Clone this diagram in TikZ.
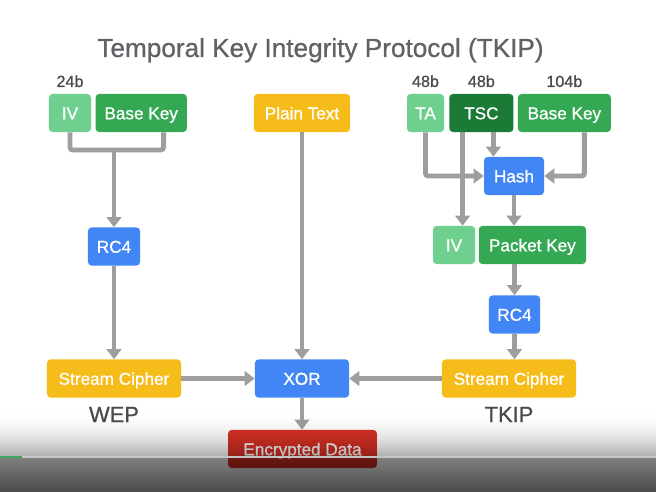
\documentclass[tikz,border=0pt]{standalone}
\usepackage{fontspec}
\setmainfont{Liberation Sans}
\newfontfamily\boxfont{Liberation Sans}[FakeBold=0.9]
\newfontfamily\headfont{Liberation Sans}[FakeBold=0.7]
\usepackage{tikz}
\usetikzlibrary{positioning,arrows.meta,calc}
\definecolor{tkline}{HTML}{9E9E9E}
\definecolor{tktext}{HTML}{606366}
\definecolor{tklabel}{HTML}{4A4A4A}
\definecolor{tklight}{HTML}{6FCF8E}
\definecolor{tkgreen}{HTML}{34A853}
\definecolor{tkdark}{HTML}{1B7A35}
\definecolor{tkblue}{HTML}{4285F4}
\definecolor{tkyellow}{HTML}{F6BC1A}
\definecolor{tkred}{HTML}{D93025}
\definecolor{tkbar}{HTML}{C4C4C4}
\definecolor{tkprog}{HTML}{3BA55C}

\begin{document}
\begin{tikzpicture}[
  x=0.025cm, y=-0.025cm,
  box/.style={fill=#1, rounded corners=2.5pt, text=white, minimum height=0.95cm,
              inner sep=0pt, text height=8.9pt, text depth=0pt,
              font=\boxfont\fontsize{12.2}{14}\selectfont},
  size/.style={text=tklabel, font=\headfont\fontsize{11.5}{13}\selectfont},
  head/.style={text=tktext, font=\headfont\fontsize{18.6}{22}\selectfont},
  tag/.style={text=tklabel, font=\headfont\fontsize{15.6}{18}\selectfont},
  link/.style={draw=tkline, line width=3.5pt, rounded corners=2pt},
  arr/.style={link, -{Triangle[width=0.36cm,length=0.25cm]}},
]
  \fill[white] (0,0) rectangle (656,492);
  \useasboundingbox (0,0) rectangle (656,492);

  % ---- title ----------------------------------------------------------------
  \node[head, anchor=base] (title) at (320.5,57) {Temporal Key Integrity Protocol (TKIP)};

  % ---- WEP side -------------------------------------------------------------
  \node[box=tklight, minimum width=1.05cm] (ivl) at (70,113) {IV};
  \node[box=tkgreen, minimum width=2.28cm, right=0.1cm of ivl] (bkl) {Base Key};
  \node[size, above=0.04cm of ivl] (ivlsz) {24b};
  \node[box=tkblue, minimum width=1.3cm] (rc4l) at (114,246.5) {RC4};
  \node[box=tkyellow, minimum width=3.35cm] (scl) at (114,378.5) {Stream Cipher};
  \node[tag, anchor=base] (wep) at (114,422) {WEP};
  \coordinate (wepjoin) at (114,150);

  % ---- middle ---------------------------------------------------------------
  \node[box=tkyellow, minimum width=2.4cm] (plain) at (302,113) {Plain Text};
  \node[box=tkblue, minimum width=2.35cm] (xor) at (302,378.5) {XOR};
  \node[box=tkred, minimum width=3.72cm] (enc) at (302.5,449) {Encrypted Data};

  % ---- TKIP side ------------------------------------------------------------
  \node[box=tklight, minimum width=0.925cm] (ta) at (425.5,113) {TA};
  \node[box=tkdark, minimum width=1.6cm, right=0.12cm of ta] (tsc) {TSC};
  \node[box=tkgreen, minimum width=2.32cm, right=0.1cm of tsc] (bkr) {Base Key};
  \node[size, above=0.04cm of ta] (tasz) {48b};
  \node[size, above=0.04cm of tsc] (tscsz) {48b};
  \node[size, above=0.04cm of bkr] (bkrsz) {104b};
  \node[box=tkblue, minimum width=1.5cm] (hash) at (514,176) {Hash};
  \node[box=tklight, minimum width=1.05cm] (ivr) at (454,245) {IV};
  \node[box=tkgreen, minimum width=2.68cm, right=0.08cm of ivr] (pk) {Packet Key};
  \node[box=tkblue, minimum width=1.28cm] (rc4r) at (514.5,314.5) {RC4};
  \node[box=tkyellow, minimum width=3.35cm] (scr) at (509,378.5) {Stream Cipher};
  \node[tag, anchor=base] (tkip) at (509,422) {TKIP};

  % ---- connectors -----------------------------------------------------------
  \draw[link] (ivl.south) |- (wepjoin) -| ([xshift=0.56cm]bkl.south);
  \draw[arr] (wepjoin) -- (rc4l.north);
  \draw[arr] (rc4l) -- (scl);
  \draw[arr] (plain) -- (xor);
  \draw[arr] (scl) -- (xor);
  \draw[arr] (scr) -- (xor);
  \draw[arr] (xor.south) -- (xor.south |- enc.north);

  \draw[arr] (ta.south) |- (hash.west);
  \draw[arr] ([xshift=0.5cm]bkr.south) |- (hash.east);
  \draw[arr] ([xshift=0.3cm]tsc.south) -- ([xshift=0.3cm]tsc.south |- hash.north);
  \draw[arr] ([xshift=-0.47cm]tsc.south) -- ([xshift=-0.47cm]tsc.south |- ivr.north);
  \draw[arr] (hash.south) -- (hash.south |- pk.north);
  \draw[arr] (rc4r.north |- pk.south) -- (rc4r.north);
  \draw[arr] (rc4r.south) -- (rc4r.south |- scr.north);

  % ---- player overlay -------------------------------------------------------
  \foreach \i [evaluate=\i as \op using {0.32*(\i/46)^2}] in {0,...,46}
    \fill[black, fill opacity=\op] (0,410+\i) rectangle (656,411+\i);
  \foreach \i [evaluate=\i as \op using {0.5+0.2*\i/34}] in {0,...,34}
    \fill[black, fill opacity=\op] (0,457+\i) rectangle (656,458+\i);
  \draw[tkbar, line width=1.4pt] (0,457) -- (656,457);
  \draw[tkprog, line width=1.4pt] (0,457) -- (22,457);
\end{tikzpicture}
\end{document}
